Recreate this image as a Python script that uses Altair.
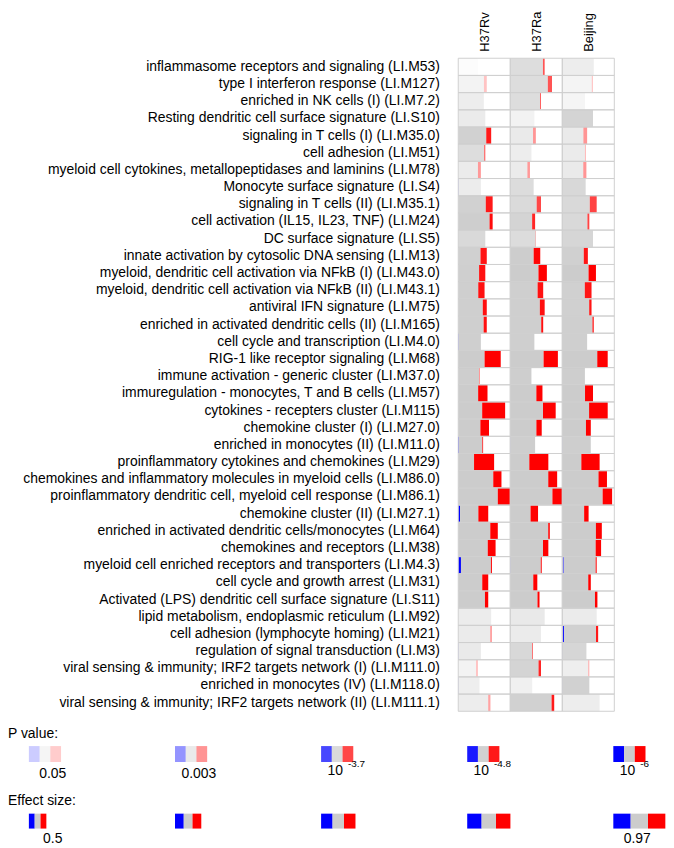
import json
import altair as alt
import pandas as pd

# ---------------- data ----------------
modules = [
    "inflammasome receptors and signaling (LI.M53)",
    "type I interferon response (LI.M127)",
    "enriched in NK cells (I) (LI.M7.2)",
    "Resting dendritic cell surface signature (LI.S10)",
    "signaling in T cells (I) (LI.M35.0)",
    "cell adhesion (LI.M51)",
    "myeloid cell cytokines, metallopeptidases and laminins (LI.M78)",
    "Monocyte surface signature (LI.S4)",
    "signaling in T cells (II) (LI.M35.1)",
    "cell activation (IL15, IL23, TNF) (LI.M24)",
    "DC surface signature (LI.S5)",
    "innate activation by cytosolic DNA sensing (LI.M13)",
    "myeloid, dendritic cell activation via NFkB (I) (LI.M43.0)",
    "myeloid, dendritic cell activation via NFkB (II) (LI.M43.1)",
    "antiviral IFN signature (LI.M75)",
    "enriched in activated dendritic cells (II) (LI.M165)",
    "cell cycle and transcription (LI.M4.0)",
    "RIG-1 like receptor signaling (LI.M68)",
    "immune activation - generic cluster (LI.M37.0)",
    "immuregulation - monocytes, T and B cells (LI.M57)",
    "cytokines - recepters cluster (LI.M115)",
    "chemokine cluster (I) (LI.M27.0)",
    "enriched in monocytes (II) (LI.M11.0)",
    "proinflammatory cytokines and chemokines (LI.M29)",
    "chemokines and inflammatory molecules in myeloid cells (LI.M86.0)",
    "proinflammatory dendritic cell, myeloid cell response (LI.M86.1)",
    "chemokine cluster (II) (LI.M27.1)",
    "enriched in activated dendritic cells/monocytes (LI.M64)",
    "chemokines and receptors (LI.M38)",
    "myeloid cell enriched receptors and transporters (LI.M4.3)",
    "cell cycle and growth arrest (LI.M31)",
    "Activated (LPS) dendritic cell surface signature (LI.S11)",
    "lipid metabolism, endoplasmic reticulum (LI.M92)",
    "cell adhesion (lymphocyte homing) (LI.M21)",
    "regulation of signal transduction (LI.M3)",
    "viral sensing & immunity; IRF2 targets network (I) (LI.M111.0)",
    "enriched in monocytes (IV) (LI.M118.0)",
    "viral sensing & immunity; IRF2 targets network (II) (LI.M111.1)",
]

samples = ["H37Rv", "H37Ra", "Beijing"]

# effect size (AUC)
auc_h37rv = [0.53, 0.65, 0.61, 0.63, 0.71, 0.63, 0.57, 0.57, 0.73, 0.73, 0.63, 0.65, 0.63,
             0.62, 0.65, 0.65, 0.57, 0.84, 0.55, 0.66, 0.90, 0.68, 0.60, 0.75, 0.85, 0.97,
             0.67, 0.80, 0.77, 0.72, 0.67, 0.67, 0.71, 0.72, 0.57, 0.53, 0.55, 0.70]
auc_h37ra = [0.73, 0.83, 0.68, 0.59, 0.61, 0.55, 0.53, 0.58, 0.68, 0.60, 0.61, 0.67, 0.76,
             0.71, 0.73, 0.71, 0.59, 0.91, 0.55, 0.70, 0.88, 0.69, 0.60, 0.78, 0.90, 0.97,
             0.64, 0.80, 0.78, 0.69, 0.63, 0.66, 0.73, 0.68, 0.57, 0.68, 0.56, 0.86]
auc_beijing = [0.69, 0.68, 0.57, 0.68, 0.60, 0.58, 0.59, 0.58, 0.73, 0.63, 0.68, 0.61, 0.72,
               0.66, 0.66, 0.69, 0.60, 0.88, 0.57, 0.68, 0.88, 0.65, 0.65, 0.77, 0.87, 0.94,
               0.62, 0.80, 0.79, 0.73, 0.65, 0.74, 0.73, 0.75, 0.59, 0.63, 0.63, 0.77]

# fraction of up-regulated genes
up_h37rv = [0, 0.10, 0, 0, 0.15, 0.04, 0.13, 0, 0.20, 0.09, 0, 0.22, 0.23,
            0.24, 0.14, 0.11, 0, 0.38, 0.02, 0.32, 0.49, 0.28, 0.03, 0.56, 0.19, 0.24,
            0.33, 0.19, 0.21, 0.03, 0.20, 0.11, 0, 0.05, 0, 0.10, 0, 0.07]
up_h37ra = [0.05, 0.10, 0.03, 0, 0.11, 0, 0.13, 0, 0.14, 0.12, 0.01, 0.22, 0.23,
            0.17, 0.14, 0.06, 0, 0.30, 0, 0.19, 0.28, 0.17, 0, 0.50, 0.19, 0.19,
            0.27, 0.04, 0.14, 0.03, 0.15, 0.07, 0, 0, 0.03, 0.08, 0, 0.06]
up_beijing = [0, 0.04, 0, 0, 0.15, 0.03, 0.13, 0, 0.20, 0.07, 0, 0.16, 0.22,
              0.23, 0.08, 0.04, 0, 0.23, 0, 0.26, 0.41, 0.17, 0, 0.49, 0.19, 0.19,
              0.17, 0.15, 0.14, 0.03, 0.09, 0.07, 0, 0.06, 0, 0.04, 0, 0]

# fraction of down-regulated genes
down_h37rv = [0, 0, 0, 0, 0, 0, 0, 0.02, 0, 0, 0, 0, 0,
              0, 0, 0, 0.02, 0, 0, 0, 0, 0, 0.03, 0, 0, 0,
              0.06, 0, 0, 0.08, 0, 0, 0, 0, 0.015, 0, 0.015, 0]
down_h37ra = [0, 0, 0, 0, 0, 0, 0, 0, 0, 0, 0, 0, 0,
              0, 0, 0, 0, 0, 0, 0, 0, 0, 0.015, 0, 0, 0,
              0, 0, 0, 0.02, 0, 0, 0, 0, 0, 0, 0, 0]
down_beijing = [0, 0, 0, 0, 0, 0, 0, 0, 0, 0, 0, 0, 0,
                0, 0, 0, 0, 0, 0, 0, 0, 0, 0.015, 0, 0, 0,
                0, 0, 0, 0.04, 0, 0, 0, 0.05, 0.015, 0, 0.015, 0]

# -log10(p value)
mlp_h37rv = [0.4, 1.5, 2.2, 2.4, 4.8, 3.5, 2.4, 2.3, 4.8, 5.5, 3.8, 5.0, 5.2,
             5.2, 5.3, 5.3, 5.3, 6, 5.5, 6, 6, 6, 6, 6, 6, 6,
             6, 6, 6, 6, 6, 6, 2.3, 2.4, 2.5, 1.5, 2.0, 2.2]
mlp_h37ra = [3.5, 3.5, 3.5, 1.6, 2.5, 2.2, 2.4, 3.6, 3.7, 4.5, 3.6, 5.8, 6,
             5.2, 5.3, 5.3, 5.3, 6, 5.5, 6, 6, 6, 5.5, 6, 6, 6,
             6, 6, 6, 6, 6, 6, 2.6, 2.4, 4.0, 4.5, 1.8, 4.8]
mlp_beijing = [2.2, 1.4, 1.3, 4.5, 2.5, 2.4, 2.5, 4.0, 3.8, 3.8, 4.2, 5.0, 6,
               5.0, 5.0, 5.3, 5.3, 6, 5.5, 6, 6, 6, 5.5, 6, 6, 6,
               6, 6, 6, 6, 6, 6, 2.4, 4.8, 4.2, 2.0, 4.8, 2.2]

# legend
legend_titles = ["P value:", "Effect size:"]
p_legend_labels = ["0.05", "0.003", "10", "10", "10"]
p_legend_exps = ["", "", "-3.7", "-4.8", "-6"]
p_legend_mlp = [1.3, 2.52, 3.7, 4.8, 6.0]
p_legend_auc = 0.70
e_legend_auc = [0.5, 0.62, 0.73, 0.85, 0.97]
e_legend_labels = ["0.5", "", "", "", "0.97"]

# ---------------- tables ----------------
auc_all = [auc_h37rv, auc_h37ra, auc_beijing]
up_all = [up_h37rv, up_h37ra, up_beijing]
down_all = [down_h37rv, down_h37ra, down_beijing]
mlp_all = [mlp_h37rv, mlp_h37ra, mlp_beijing]
rows = []
for si, s in enumerate(samples):
    for mi, m in enumerate(modules):
        rows.append(dict(module=m, sample=s, col=si, auc=auc_all[si][mi],
                         up=up_all[si][mi], down=down_all[si][mi], mlp=mlp_all[si][mi]))
df = pd.DataFrame(rows)

leg_p = pd.DataFrame(dict(slot=list(range(5)), mlp=p_legend_mlp, label=p_legend_labels,
                          exp=p_legend_exps, auc=[p_legend_auc] * 5))
leg_e = pd.DataFrame(dict(slot=list(range(5)), auc=e_legend_auc, label=e_legend_labels))

# ---------------- style ----------------
FONT = "Liberation Sans"
BLUE, GREY, RED = "#0000ff", "#cccccc", "#ff0000"
FRAME = "#d0d0d0"
AUC_MIN, AUC_MAX = 0.262, 0.97
SPAN = AUC_MAX - AUC_MIN
PLOT_W = 157
CELL_W = PLOT_W / 3
PX_PER_AUC = CELL_W / SPAN
LEFT = 453  # distance from page-left content edge to plot area

op_scale = alt.Scale(domain=[0, 1.3, 2.52, 3.7, 4.8, 6.0],
                     range=[0, 0.2, 0.42, 0.72, 0.9, 1.0], clamp=True)

x_scale = alt.Scale(domain=[0, 3], nice=False, zero=False)
x_axis = alt.Axis(orient="top", values=[0.5, 1.5, 2.5],
                  labelExpr=f"{json.dumps(samples)}[floor(datum.value)]",
                  labelAngle=-90, ticks=False, domain=False, grid=False,
                  labelFont=FONT, labelFontSize=13, labelColor="#000",
                  labelPadding=7, title=None)
y_axis = alt.Axis(title=None, ticks=False, domain=False, grid=False, labelFont=FONT,
                  labelFontSize=14, labelColor="#000", labelPadding=19,
                  labelLimit=600)


def xenc(f):
    return alt.X(f"{f}:Q", scale=x_scale, axis=x_axis)


yenc = alt.Y("module:N", sort=modules, scale=alt.Scale(paddingInner=0, paddingOuter=0), axis=y_axis)
openc = alt.Opacity("mlp:Q", scale=op_scale, legend=None)

base = alt.Chart(df).transform_calculate(w=f"(datum.auc - {AUC_MIN}) / {SPAN}")

bg = base.transform_calculate(a="datum.col", b="datum.col + 1").mark_rect(
    color="white").encode(x=xenc("a"), x2="b:Q", y=yenc)
blue = base.transform_calculate(a="datum.col", b="datum.col + datum.w * datum.down").mark_rect(
    color=BLUE).encode(x=xenc("a"), x2="b:Q", y=yenc, opacity=openc)
grey = base.transform_calculate(a="datum.col + datum.w * datum.down",
                                b="datum.col + datum.w * (1 - datum.up)").mark_rect(
    color=GREY).encode(x=xenc("a"), x2="b:Q", y=yenc, opacity=openc)
red = base.transform_calculate(a="datum.col + datum.w * (1 - datum.up)",
                               b="datum.col + datum.w").mark_rect(
    color=RED).encode(x=xenc("a"), x2="b:Q", y=yenc, opacity=openc)
frame = base.transform_calculate(a="datum.col", b="datum.col + 1").mark_rect(
    fillOpacity=0, stroke=FRAME, strokeWidth=1).encode(x=xenc("a"), x2="b:Q", y=yenc)

main = alt.layer(bg, blue, grey, red, frame).properties(width=PLOT_W, height=657)

# ---------------- legend ----------------
# legend x in page pixels from the left content edge; the legend plot shares the main plot's origin
LW = 658
lx_scale = alt.Scale(domain=[0, LW], range=[-LEFT, LW - LEFT], nice=False, zero=False)
SLOT0, SLOT_STEP = 21, 147


def lx(f):
    return alt.X(f"{f}:Q", scale=lx_scale, axis=None)


def glyph(data, y0, y1, opacity):
    b = alt.Chart(data).transform_calculate(
        x0=f"{SLOT0} + datum.slot * {SLOT_STEP}",
        gw=f"(datum.auc - {AUC_MIN}) * {PX_PER_AUC}")
    layers = []
    for color, f0, f1 in [(BLUE, 0, 1 / 3), (GREY, 1 / 3, 2 / 3), (RED, 2 / 3, 1)]:
        layers.append(
            b.transform_calculate(a=f"datum.x0 + datum.gw * {f0}", bb=f"datum.x0 + datum.gw * {f1}")
            .mark_rect(color=color)
            .encode(x=lx("a"), x2="bb:Q", y=alt.value(y0), y2=alt.value(y1), opacity=opacity))
    return layers


p_glyphs = glyph(leg_p, 18, 34, alt.Opacity("mlp:Q", scale=op_scale, legend=None))
e_glyphs = glyph(leg_e, 86, 101, alt.value(1))

txt = dict(font=FONT, fontSize=14, color="#000", baseline="alphabetic")

t_p = alt.Chart(pd.DataFrame({"t": [legend_titles[0]], "x": [0]})).mark_text(
    align="left", **txt).encode(text="t:N", x=lx("x"), y=alt.value(10))
t_e = alt.Chart(pd.DataFrame({"t": [legend_titles[1]], "x": [0]})).mark_text(
    align="left", **txt).encode(text="t:N", x=lx("x"), y=alt.value(77))

p_plain = alt.Chart(leg_p).transform_filter("datum.exp == ''").transform_calculate(
    lx=f"{SLOT0} + datum.slot * {SLOT_STEP} + 24").mark_text(align="center", **txt).encode(
    text="label:N", x=lx("lx"), y=alt.value(50))
p_base10 = alt.Chart(leg_p).transform_filter("datum.exp != ''").transform_calculate(
    lx=f"{SLOT0} + datum.slot * {SLOT_STEP} + 22").mark_text(align="right", **txt).encode(
    text="label:N", x=lx("lx"), y=alt.value(47))
p_exp = alt.Chart(leg_p).transform_filter("datum.exp != ''").transform_calculate(
    lx=f"{SLOT0} + datum.slot * {SLOT_STEP} + 27").mark_text(
    align="left", font=FONT, fontSize=10, color="#000", baseline="alphabetic").encode(
    text="exp:N", x=lx("lx"), y=alt.value(39))
e_lab = alt.Chart(leg_e).transform_filter("datum.label != ''").transform_calculate(
    lx=f"{SLOT0} + datum.slot * {SLOT_STEP} + 24").mark_text(align="center", **txt).encode(
    text="label:N", x=lx("lx"), y=alt.value(116))

legend = alt.layer(*p_glyphs, *e_glyphs, t_p, t_e, p_plain, p_base10, p_exp, e_lab).properties(
    width=PLOT_W, height=118)

chart = alt.vconcat(main, legend, spacing=15).resolve_scale(
    x="independent", y="independent").properties(padding=0).configure_view(strokeWidth=0)

chart.save("out.html", embed_options={"renderer": "svg", "actions": False})
